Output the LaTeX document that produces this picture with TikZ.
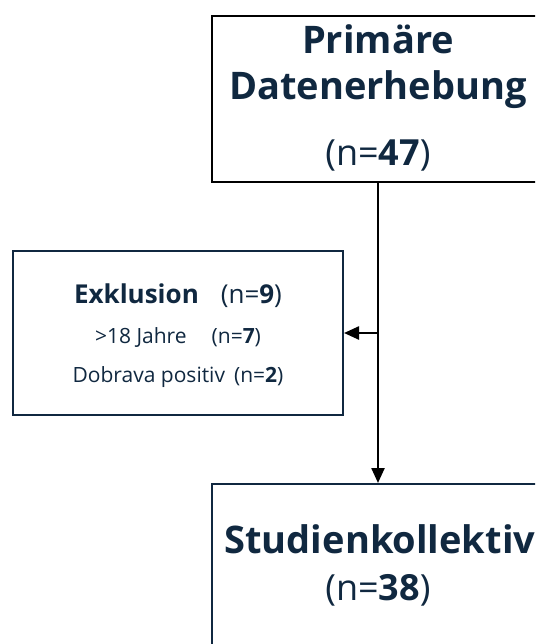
\documentclass[tikz,border=0pt]{standalone}
\usepackage{fontspec}
\setmainfont{Open Sans}
\definecolor{studie_navy}{RGB}{16, 40, 64}
\usepackage{tikz}
\usetikzlibrary{arrows.meta, positioning, calc}

\begin{document}
\begin{tikzpicture}[x=1pt, y=-1pt,
    kasten/.style={draw=studie_navy, line width=2pt, inner sep=0pt},
    titel/.style={anchor=base, color=studie_navy, font=\fontsize{38}{40}\selectfont\bfseries},
    anzahl/.style={anchor=base, color=studie_navy, font=\fontsize{36}{38}\selectfont},
    pfeil/.style={line width=2.4pt, -{Triangle[length=15pt, width=13pt]}}]
        \useasboundingbox (0,0) rectangle (535,644);
        \clip (0,0) rectangle (535,644);
        \fill[white] (0,0) rectangle (535,644);

        % Box 1 : Datenerhebung
        \node[kasten, draw=black, line width=2.5pt, minimum width=332pt, minimum height=166pt] (erhebung) at (378,99) {};
        \node[titel] (erhebung1) at (378,54) {Primäre};
        \node[titel] (erhebung2) at (378,100) {Datenerhebung};
        \node[anzahl] (erhebung3) at (378,166) {(n=\textbf{47})};

        % Box 2 : Exklusion
        \node[kasten, minimum width=330pt, minimum height=164pt] (exklusion) at (178,333) {};
        \node[anchor=base, color=studie_navy, font=\fontsize{26}{28}\selectfont] (exkl1) at (178,303)
          {\textbf{Exklusion}\hspace{22pt}(n=\textbf{9})};
        \node[anchor=base, color=studie_navy, font=\fontsize{21}{23}\selectfont] (exkl2) at (178,343)
          {>18 Jahre\hspace{25pt}(n=\textbf{7})};
        \node[anchor=base, color=studie_navy, font=\fontsize{21}{23}\selectfont] (exkl3) at (178,382)
          {Dobrava positiv\hspace{9pt}(n=\textbf{2})};

        % Box 3 : Studienkollektiv
        \node[kasten, minimum width=332pt, minimum height=200pt] (kollektiv) at (378,584) {};
        \node[titel, anchor=base west, font=\fontsize{38}{40}\selectfont\bfseries] (koll1) at (221,553) {Studienkollektiv};
        \node[anzahl] (koll2) at (378,600) {(n=\textbf{38})};

        % Pfeile
        \coordinate (abzweig) at (erhebung.south |- exklusion.east);
        \draw[pfeil] (erhebung.south) -- (kollektiv.north);
        \draw[pfeil] (abzweig) -- (exklusion.east);
      \end{tikzpicture}
\end{document}
